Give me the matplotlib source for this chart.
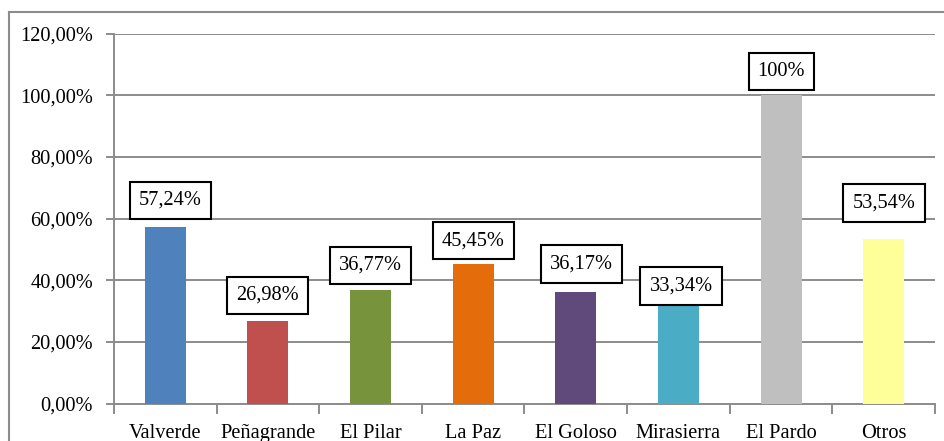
import matplotlib
matplotlib.use("Agg")
import matplotlib.pyplot as plt
from matplotlib.ticker import FuncFormatter, FixedLocator
from matplotlib.lines import Line2D

categories = ["Valverde", "Peñagrande", "El Pilar", "La Paz", "El Goloso",
              "Mirasierra", "El Pardo", "Otros"]
values = [57.24, 26.98, 36.77, 45.45, 36.17, 33.34, 100.0, 53.54]
labels = ["57,24%", "26,98%", "36,77%", "45,45%", "36,17%", "33,34%", "100%", "53,54%"]
colors = ["#4F81BD", "#C0504D", "#77933C", "#E46C0A", "#604A7B",
          "#4BACC6", "#BFBFBF", "#FFFF99"]
yticks = [0, 20, 40, 60, 80, 100, 120]
# label box offsets (pixels) relative to bar top
label_dx = [5, 0, 0, 0, 5.7, 2.6, 0.4, 0.3]
label_dy = [27, 25, 25, 23, 28, 15, 24, 35.5]

plt.rcParams['font.family'] = ['Liberation Serif', 'DejaVu Serif']
FS = 14.7

fig = plt.figure(figsize=(9.45, 4.41), dpi=100)
ax = fig.add_axes([114/945, (441-403.7)/441, (935-114)/945, 370/441])

x = list(range(len(categories)))
ax.bar(x, values, width=0.4, color=colors, zorder=3)

ax.set_xlim(-0.5, len(categories) - 0.5)
ax.set_ylim(0, 120)
ax.yaxis.set_major_locator(FixedLocator(yticks))
ax.yaxis.set_major_formatter(FuncFormatter(lambda v, p: f"{v:.2f}%".replace('.', ',')))
ax.grid(axis='y', color='#8C8C8C', linewidth=1.4, zorder=0)
ax.set_axisbelow(True)

ax.set_xticks(x)
ax.set_xticklabels(categories, fontsize=FS)
ax.set_xticks([i - 0.5 for i in range(len(categories) + 1)], minor=True)
ax.tick_params(axis='x', which='major', length=0, pad=14.5)
ax.tick_params(axis='x', which='minor', length=7, width=1.4, color='#8C8C8C')
ax.tick_params(axis='y', length=6, width=1.4, color='#8C8C8C', labelsize=FS, pad=9)

for s in ['top', 'right']:
    ax.spines[s].set_visible(False)
for s in ['left', 'bottom']:
    ax.spines[s].set_color('#8C8C8C')
    ax.spines[s].set_linewidth(1.4)

px = 72 / fig.dpi
for i, (v, lab) in enumerate(zip(values, labels)):
    ax.annotate(lab, xy=(i, v), xytext=(label_dx[i] * px, label_dy[i] * px),
                textcoords='offset points', ha='center', va='center', fontsize=FS,
                bbox=dict(boxstyle='square,pad=0.45', fc='white', ec='black', lw=1.5),
                zorder=5)

# outer chart border (left and top visible)
fig.add_artist(Line2D([9/945, 9/945], [0, 1 - 12/441], transform=fig.transFigure,
                      color='#8C8C8C', lw=1.5))
fig.add_artist(Line2D([9/945, 1], [1 - 12/441, 1 - 12/441], transform=fig.transFigure,
                      color='#8C8C8C', lw=1.5))

fig.savefig("out.png", dpi=100)
